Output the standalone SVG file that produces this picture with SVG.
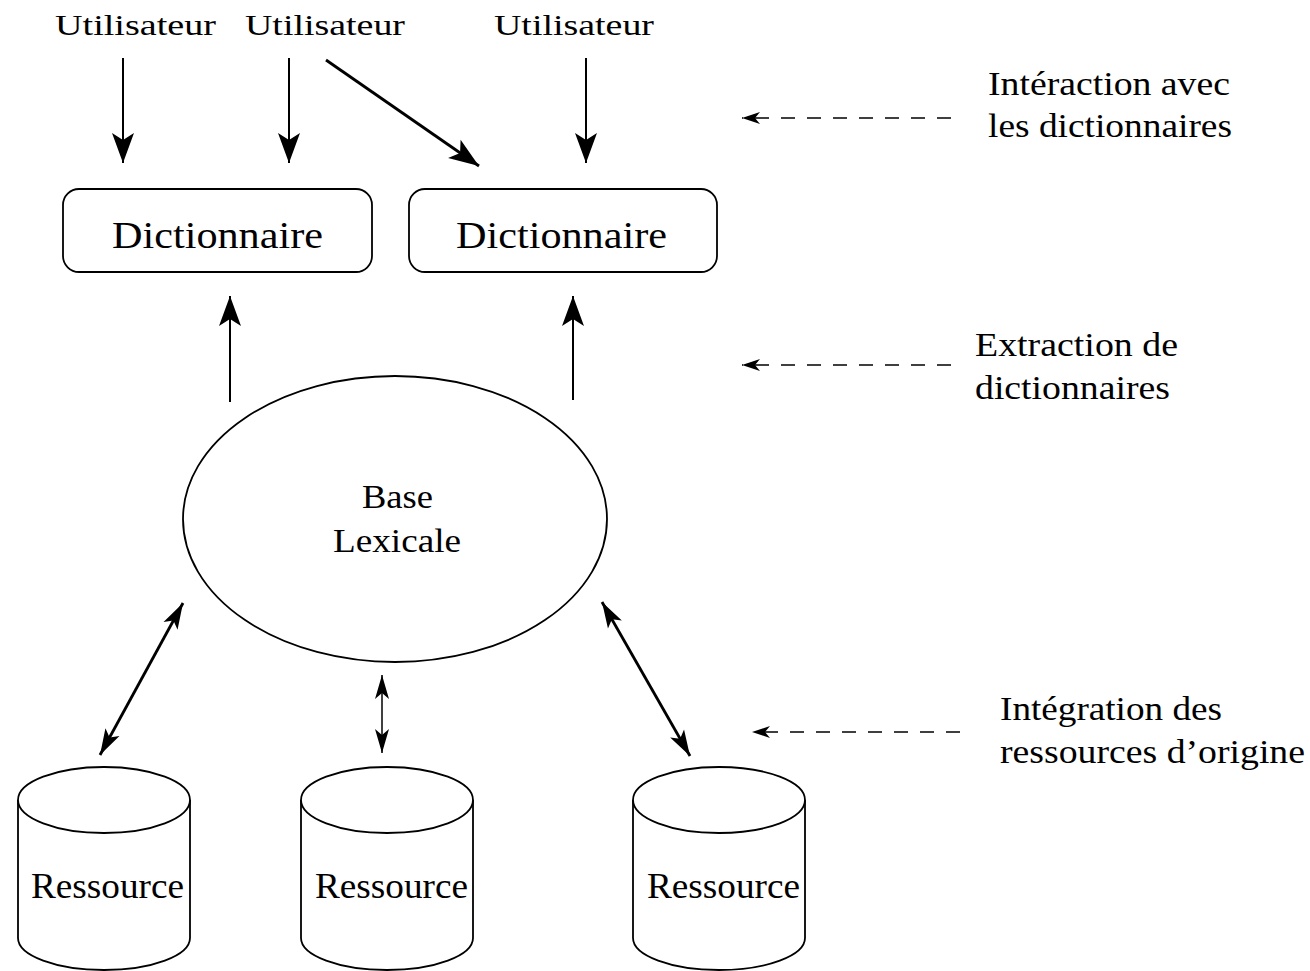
<svg xmlns="http://www.w3.org/2000/svg" width="1310" height="971" viewBox="0 0 1310 971">
<style>
text{font-family:"Liberation Serif","Times New Roman",serif;fill:#000}
.shape{fill:#fff;stroke:#000;stroke-width:1.8}
.arr{stroke:#000;stroke-width:2;fill:none}
.thick{stroke-width:2.8}
.thin{stroke-width:1.5}
.dash{stroke:#000;stroke-width:1.6;stroke-dasharray:14 12;fill:none}
.lab{font-size:33px}
</style>
<defs>
<marker id="head" markerUnits="userSpaceOnUse" orient="auto" overflow="visible" refX="0" refY="0" markerWidth="1" markerHeight="1">
<path d="M0,0 L-30,-11 L-23,0 L-30,11 Z" fill="#000"/>
</marker>
<marker id="dhead" markerUnits="userSpaceOnUse" orient="auto-start-reverse" overflow="visible" refX="0" refY="0" markerWidth="1" markerHeight="1">
<path d="M0,0 L-26,-8 L-20,0 L-26,8 Z" fill="#000"/>
</marker>
<marker id="nhead" markerUnits="userSpaceOnUse" orient="auto-start-reverse" overflow="visible" refX="0" refY="0" markerWidth="1" markerHeight="1">
<path d="M0,0 L-24,-7 L-18,0 L-24,7 Z" fill="#000"/>
</marker>
<marker id="shead" markerUnits="userSpaceOnUse" orient="auto" overflow="visible" refX="0" refY="0" markerWidth="1" markerHeight="1">
<path d="M0,0 L-18,-6 L-13,0 L-18,6 Z" fill="#000"/>
</marker>
</defs>

<g id="users">
<text x="55" y="35" font-size="30" textLength="161" lengthAdjust="spacingAndGlyphs">Utilisateur</text>
<text x="245" y="35" font-size="30" textLength="160" lengthAdjust="spacingAndGlyphs">Utilisateur</text>
<text x="494" y="35" font-size="30" textLength="160" lengthAdjust="spacingAndGlyphs">Utilisateur</text>
</g>

<g id="dict1">
<rect class="shape" x="63" y="189" width="309" height="83" rx="16" ry="16"/>
<text x="112" y="248" font-size="38" textLength="211" lengthAdjust="spacingAndGlyphs">Dictionnaire</text>
</g>
<g id="dict2">
<rect class="shape" x="409" y="189" width="308" height="83" rx="16" ry="16"/>
<text x="456" y="248" font-size="38" textLength="211" lengthAdjust="spacingAndGlyphs">Dictionnaire</text>
</g>

<g id="base">
<ellipse class="shape" cx="395" cy="519" rx="212" ry="143"/>
<text x="362" y="508" font-size="34" textLength="71" lengthAdjust="spacingAndGlyphs">Base</text>
<text x="333" y="552" font-size="34" textLength="128" lengthAdjust="spacingAndGlyphs">Lexicale</text>
</g>

<g id="res1">
<path class="shape" d="M18,800 L18,938 A86,32 0 0 0 190,938 L190,800"/>
<ellipse class="shape" cx="104" cy="800" rx="86" ry="33"/>
<text x="31" y="898" font-size="35" textLength="153" lengthAdjust="spacingAndGlyphs">Ressource</text>
</g>
<g id="res2">
<path class="shape" d="M301,800 L301,938 A86,32 0 0 0 473,938 L473,800"/>
<ellipse class="shape" cx="387" cy="800" rx="86" ry="33"/>
<text x="315" y="898" font-size="35" textLength="153" lengthAdjust="spacingAndGlyphs">Ressource</text>
</g>
<g id="res3">
<path class="shape" d="M633,800 L633,938 A86,32 0 0 0 805,938 L805,800"/>
<ellipse class="shape" cx="719" cy="800" rx="86" ry="33"/>
<text x="647" y="898" font-size="35" textLength="153" lengthAdjust="spacingAndGlyphs">Ressource</text>
</g>

<g id="annotations">
<text class="lab" x="988" y="95" textLength="242" lengthAdjust="spacingAndGlyphs">Intéraction avec</text>
<text class="lab" x="988" y="137" textLength="244" lengthAdjust="spacingAndGlyphs">les dictionnaires</text>
<text class="lab" x="975" y="356" textLength="203" lengthAdjust="spacingAndGlyphs">Extraction de</text>
<text class="lab" x="975" y="399" textLength="195" lengthAdjust="spacingAndGlyphs">dictionnaires</text>
<text class="lab" x="1000" y="720" textLength="222" lengthAdjust="spacingAndGlyphs">Intégration des</text>
<text class="lab" x="1000" y="763" textLength="305" lengthAdjust="spacingAndGlyphs">ressources d’origine</text>
</g>

<g id="connectors">
<line class="arr" x1="123" y1="58" x2="123" y2="163" marker-end="url(#head)"/>
<line class="arr" x1="289" y1="58" x2="289" y2="163" marker-end="url(#head)"/>
<line class="arr thick" x1="326" y1="60" x2="479" y2="166" marker-end="url(#head)"/>
<line class="arr" x1="586" y1="58" x2="586" y2="163" marker-end="url(#head)"/>
<line class="arr" x1="230" y1="402" x2="230" y2="296" marker-end="url(#head)"/>
<line class="arr" x1="573" y1="400" x2="573" y2="296" marker-end="url(#head)"/>
<line class="arr thick" x1="100" y1="755" x2="183" y2="603" marker-start="url(#dhead)" marker-end="url(#dhead)"/>
<line class="arr thin" x1="382" y1="753" x2="382" y2="675" marker-start="url(#nhead)" marker-end="url(#nhead)"/>
<line class="arr thick" x1="690" y1="756" x2="602" y2="602" marker-start="url(#dhead)" marker-end="url(#dhead)"/>
<line class="dash" x1="951" y1="118" x2="742" y2="118" marker-end="url(#shead)"/>
<line class="dash" x1="951" y1="365" x2="742" y2="365" marker-end="url(#shead)"/>
<line class="dash" x1="960" y1="732" x2="752" y2="732" marker-end="url(#shead)"/>
</g>
</svg>
